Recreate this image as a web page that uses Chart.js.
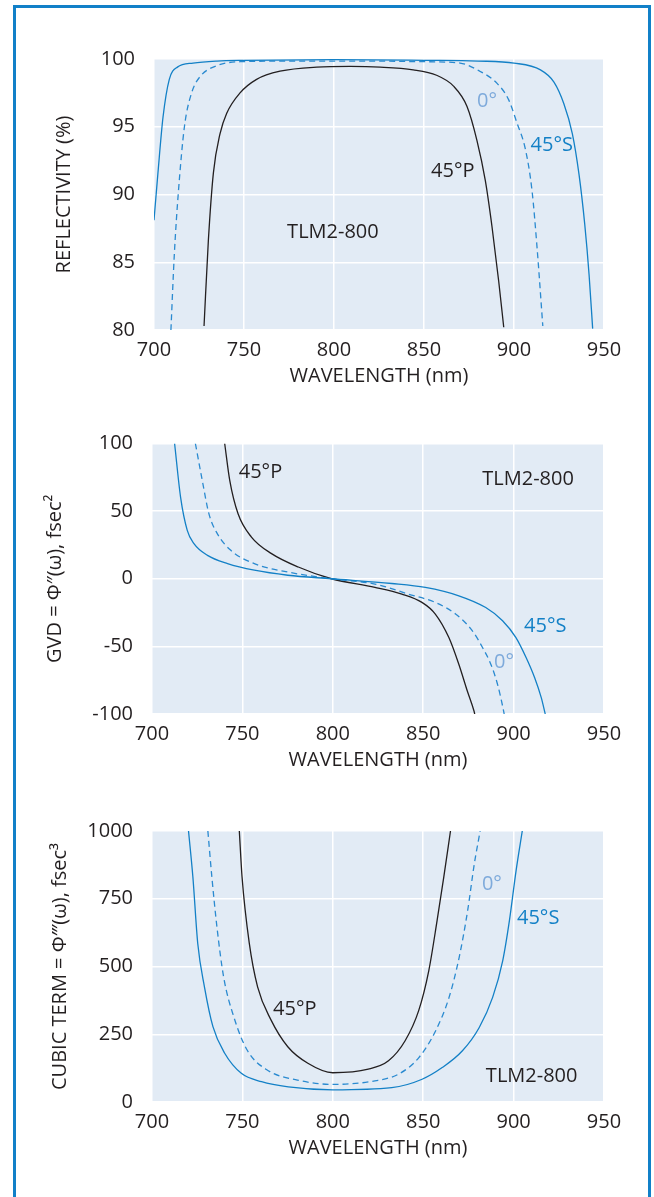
<!DOCTYPE html>
<html>
<head>
<meta charset="utf-8">
<script src="https://cdn.jsdelivr.net/npm/chart.js@4.4.1/dist/chart.umd.min.js"></script>
<style>
  body { margin: 0; background: #fff; }
  #page { position: relative; width: 654px; height: 1197px; overflow: hidden; }
  #frame { position: absolute; left: 13px; top: 5px; width: 632px; height: 1300px;
           border: 3px solid #1180c8; border-bottom: none; }
  canvas { position: absolute; left: 0; }
</style>
</head>
<body>
<div id="page">
  <div id="frame"></div>
  <canvas id="reflChart" width="654" height="400" style="top:0px"></canvas>
  <canvas id="gvdChart" width="654" height="400" style="top:400px"></canvas>
  <canvas id="cubicChart" width="654" height="397" style="top:800px"></canvas>
</div>
<script>
// wavelength ticks shared by all three panels
const wavelengthTicks = [700, 750, 800, 850, 900, 950];
const reflTicks = [80, 85, 90, 95, 100];
const gvdTicks = [-100, -50, 0, 50, 100];
const cubicTicks = [0, 250, 500, 750, 1000];

// Reflectivity (%)
const reflS_nm = [700, 702.2, 705, 708.5, 713, 721.7, 735, 750, 800, 850, 880, 900, 914.7, 922.2, 927.7, 932.4, 936.1, 939.3, 941.7, 943.7];
const reflS = [88.1, 91.6, 95.7, 98.5, 99.4, 99.7, 99.85, 99.9, 99.95, 99.9, 99.85, 99.7, 99.2, 98.3, 96.7, 94.5, 91.5, 87.8, 84.1, 80.1];
const refl0_nm = [709.4, 711.3, 713.5, 716.9, 720.9, 725.6, 734.8, 747.8, 780, 820, 850, 870, 881, 890.6, 897, 901.6, 906.4, 910, 912.8, 916];
const refl0 = [80, 85.6, 90.1, 95.0, 97.5, 98.7, 99.5, 99.8, 99.85, 99.85, 99.8, 99.7, 99.1, 98.2, 97.0, 95.3, 93.3, 90.3, 86.1, 80.3];
const reflP_nm = [727.8, 730.2, 733, 736.7, 740.4, 747.8, 757, 770, 790.4, 809, 825.6, 844, 857, 866.4, 873.9, 879.4, 884.1, 887.8, 891.5, 894.3];
const reflP = [80.3, 86.6, 91.6, 94.5, 96.0, 97.5, 98.5, 99.1, 99.4, 99.45, 99.4, 99.2, 98.8, 98.0, 96.5, 94.0, 91.0, 87.6, 83.6, 80.2];

// GVD (fsec^2)
const gvdS_nm = [712.5, 715.8, 719.5, 723.2, 730.7, 741.8, 756.6, 775.1, 799.2, 832.6, 851.2, 869.7, 884.6, 893.9, 901.3, 906.9, 911.6, 915.3, 917.5];
const gvdS = [100, 60.4, 35.8, 26, 17.3, 11.2, 6.3, 2.6, 0, -3.5, -6.4, -12.6, -21.3, -31, -43.5, -58.2, -73, -87.9, -100];
const gvd0_nm = [724, 727.8, 731.5, 736.1, 743.6, 756.6, 775, 799.2, 823.3, 841.9, 856.7, 867.9, 877.2, 882.8, 887.4, 891.1, 893.9, 894.8];
const gvd0 = [100, 72.7, 48, 33.4, 21, 11.2, 5, 0, -3.9, -11.4, -17.5, -26.1, -38.5, -50.8, -63.2, -78, -94, -100];
const gvdP_nm = [740.2, 743, 747.6, 755, 766.1, 780.9, 799.2, 823.3, 838.2, 849.3, 856.7, 864.2, 869.7, 874.4, 878.1, 878.5];
const gvdP = [100, 72.7, 48, 30.8, 18.6, 8.7, 0, -6.4, -11.4, -17.5, -26.1, -43.5, -63.2, -83, -97.8, -100];

// Cubic term (fsec^3)
const cubicS_nm = [720.2, 722.6, 725.3, 729, 733.7, 740.2, 749.4, 760.6, 775.4, 800, 832.6, 849.4, 860.5, 871.7, 881, 888.4, 894, 897.7, 901.4, 904.8];
const cubicS = [1000, 831, 585, 425, 278, 180, 106, 75, 56, 45, 53, 84, 127, 189, 275, 386, 522, 670, 855, 1000];
const cubic0_nm = [730.9, 733.1, 735.9, 739.6, 745.2, 752.6, 763.7, 780.4, 800, 823.3, 836.4, 847.6, 856.9, 864.3, 869.9, 874.6, 878.3, 881.5];
const cubic0 = [1000, 831, 647, 462, 315, 192, 118, 81, 65, 78, 103, 164, 263, 386, 534, 707, 880, 1000];
const cubicP_nm = [748.3, 749.8, 753.8, 758.4, 765.8, 775.1, 786.2, 800, 819.6, 830.8, 840, 847.5, 853.1, 857.7, 861.4, 865.1];
const cubicP = [1000, 831, 586, 425, 303, 204, 143, 108, 121, 152, 226, 337, 485, 670, 831, 1000];

const BLUE = '#1380c6';
const DASH_BLUE = '#2a8ad0';
const LIGHT_BLUE = '#7eaadb';
const INK = '#231f20';
const PLOT_BG = '#e2ebf5';
const FONT = "'Open Sans', 'Noto Sans', sans-serif";
const FONT_SIZE = 20;

function pts(xs, ys) {
    return xs.map((x, i) => ({ x: x, y: ys[i] }));
}

function series(xs, ys, color, dashed) {
    return {
        data: pts(xs, ys),
        borderColor: color,
        borderWidth: 1.3,
        borderDash: dashed ? [6, 4] : [],
        pointRadius: 0,
        cubicInterpolationMode: 'monotone',
        fill: false
    };
}

const plotBackground = {
    id: 'plotBackground',
    beforeDraw(chart) {
        const a = chart.chartArea;
        const ctx = chart.ctx;
        ctx.save();
        ctx.fillStyle = PLOT_BG;
        ctx.fillRect(a.left, a.top, a.right - a.left, a.bottom - a.top);
        ctx.restore();
    }
};

// curve labels placed in data units
const curveLabels = {
    id: 'curveLabels',
    afterDatasetsDraw(chart, args, opts) {
        const ctx = chart.ctx;
        const xs = chart.scales.x, ys = chart.scales.y;
        ctx.save();
        ctx.font = FONT_SIZE + 'px ' + FONT;
        ctx.textAlign = 'center';
        ctx.textBaseline = 'middle';
        (opts.items || []).forEach(it => {
            ctx.fillStyle = it.color;
            ctx.fillText(it.text, xs.getPixelForValue(it.x), ys.getPixelForValue(it.y));
        });
        ctx.restore();
    }
};

function makeChart(id, cfg) {
    const ctx = document.getElementById(id).getContext('2d');
    return new Chart(ctx, {
        type: 'line',
        data: { datasets: cfg.datasets },
        plugins: [plotBackground, curveLabels],
        options: {
            responsive: false,
            animation: false,
            layout: { padding: { left: 0, right: 50, top: cfg.padTop, bottom: cfg.padBottom } },
            plugins: {
                legend: { display: false },
                tooltip: { enabled: false },
                curveLabels: { items: cfg.labels }
            },
            scales: {
                x: {
                    type: 'linear',
                    min: 700, max: 950,
                    afterBuildTicks: s => { s.ticks = wavelengthTicks.map(v => ({ value: v })); },
                    afterFit: s => { s.height = 70; },
                    grid: { color: '#ffffff', lineWidth: 1.5, drawTicks: false },
                    border: { display: false },
                    ticks: { color: INK, font: { family: FONT, size: FONT_SIZE }, padding: 8, maxRotation: 0,
                             callback: v => String(v) },
                    title: { display: true, text: 'WAVELENGTH (nm)', color: INK,
                             font: { family: FONT, size: FONT_SIZE }, padding: { top: 0, bottom: 12 } }
                },
                y: {
                    type: 'linear',
                    min: cfg.yTicks[0], max: cfg.yTicks[cfg.yTicks.length - 1],
                    afterBuildTicks: s => { s.ticks = cfg.yTicks.map(v => ({ value: v })); },
                    afterFit: s => { s.width = cfg.yWidth; },
                    grid: { color: '#ffffff', lineWidth: 1.5, drawTicks: false },
                    border: { display: false },
                    ticks: { color: INK, font: { family: FONT, size: FONT_SIZE }, padding: 19,
                             callback: v => String(v) },
                    title: { display: true, text: cfg.yTitle, color: INK,
                             font: { family: FONT, size: FONT_SIZE }, padding: { top: cfg.yTitlePad, bottom: 0 } }
                }
            }
        }
    });
}

let reflChart, gvdChart, cubicChart;

reflChart = makeChart('reflChart', {
    padTop: 59, padBottom: 0, yWidth: 154, yTitlePad: 52,
    yTicks: reflTicks,
    yTitle: 'REFLECTIVITY (%)',
    datasets: [
        series(reflS_nm, reflS, BLUE, false),
        series(refl0_nm, refl0, DASH_BLUE, true),
        series(reflP_nm, reflP, INK, false)
    ],
    labels: [
        { text: '0°', x: 885, y: 96.9, color: LIGHT_BLUE },
        { text: '45°S', x: 921, y: 93.6, color: BLUE },
        { text: '45°P', x: 866, y: 91.7, color: INK },
        { text: 'TLM2-800', x: 799.4, y: 87.2, color: INK }
    ]
});

gvdChart = makeChart('gvdChart', {
    padTop: 43.5, padBottom: 16, yWidth: 152, yTitlePad: 43,
    yTicks: gvdTicks,
    yTitle: 'GVD = Φ″(ω), fsec²',
    datasets: [
        series(gvdS_nm, gvdS, BLUE, false),
        series(gvd0_nm, gvd0, DASH_BLUE, true),
        series(gvdP_nm, gvdP, INK, false)
    ],
    labels: [
        { text: '45°P', x: 760, y: 78.6, color: INK },
        { text: 'TLM2-800', x: 908, y: 73.4, color: INK },
        { text: '45°S', x: 917.5, y: -35, color: BLUE },
        { text: '0°', x: 894.7, y: -61.6, color: LIGHT_BLUE }
    ]
});

cubicChart = makeChart('cubicChart', {
    padTop: 31, padBottom: 25, yWidth: 152, yTitlePad: 48,
    yTicks: cubicTicks,
    yTitle: 'CUBIC TERM = Φ‴(ω), fsec³',
    datasets: [
        series(cubicS_nm, cubicS, BLUE, false),
        series(cubic0_nm, cubic0, DASH_BLUE, true),
        series(cubicP_nm, cubicP, INK, false)
    ],
    labels: [
        { text: '45°P', x: 779, y: 343, color: INK },
        { text: '0°', x: 888, y: 804, color: LIGHT_BLUE },
        { text: '45°S', x: 913.6, y: 679, color: BLUE },
        { text: 'TLM2-800', x: 910, y: 96, color: INK }
    ]
});
</script>
</body>
</html>
